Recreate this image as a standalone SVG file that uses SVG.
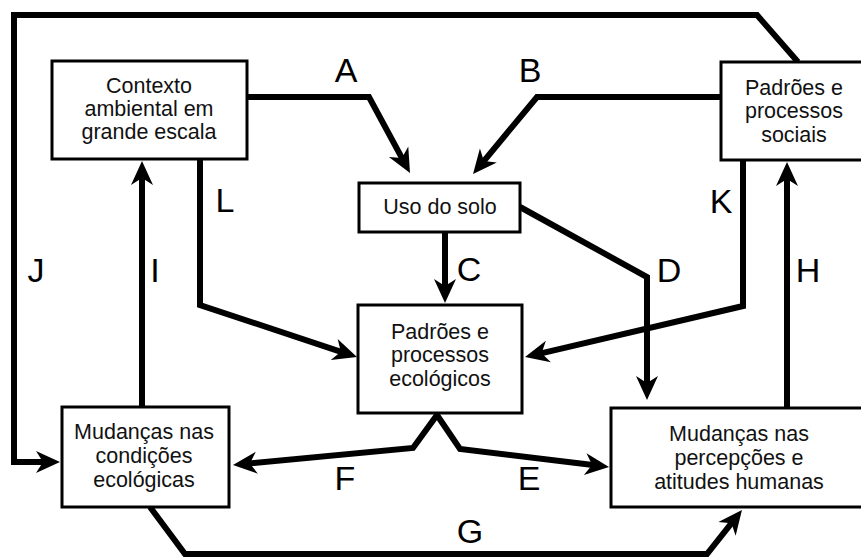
<svg xmlns="http://www.w3.org/2000/svg" width="861" height="558" viewBox="0 0 861 558">
<style>
.box{fill:#fff;stroke:#000;stroke-width:3}
.nt{font-family:"Liberation Sans",Arial,sans-serif;font-size:21.5px;fill:#111;text-anchor:middle}
.lb{font-family:"Liberation Sans",Arial,sans-serif;font-size:34px;fill:#000;text-anchor:middle}
.cn{fill:none;stroke:#000;stroke-width:6;stroke-linejoin:miter;stroke-miterlimit:6}
.ar{marker-end:url(#ah)}
</style>
<defs>
<marker id="ah" markerUnits="userSpaceOnUse" orient="auto-start-reverse" overflow="visible" markerWidth="1" markerHeight="1" refX="0" refY="0">
<path d="M12,0 L-12,-11 L-5,0 L-12,11 Z" fill="#000"/>
</marker>
</defs>
<rect width="861" height="558" fill="#fff"/>
<g id="connectors">
<path id="J" class="cn ar" d="M798,62 L757,15 L14,15 L14,462 L48,462"/>
<path id="A" class="cn ar" d="M247,97 L369,97 L404.3,162.4"/>
<path id="B" class="cn ar" d="M721,97 L537,97 L480.7,164.8"/>
<path id="C" class="cn ar" d="M445,232 L445,291"/>
<path id="D" class="cn ar" d="M520,207 L647,277 L647,388"/>
<path id="K" class="cn ar" d="M743,160 L743,306 L536.7,354.3"/>
<path id="H" class="cn ar" d="M787,408 L787,174"/>
<path id="L" class="cn ar" d="M200,159 L200,305 L345.6,353.3"/>
<path id="I" class="cn ar" d="M142,407 L142,173"/>
<path id="FE" class="cn ar" style="marker-start:url(#ah)" d="M244.9,463.9 L413,448 L437,415 L460,449 L597.1,465.6"/>
<path id="G" class="cn ar" d="M150,507 L185,554 L707,554 L734.5,519.4"/>
<text class="lb" x="346" y="82">A</text>
<text class="lb" x="530" y="82">B</text>
<text class="lb" x="469" y="281">C</text>
<text class="lb" x="669" y="282">D</text>
<text class="lb" x="721" y="213">K</text>
<text class="lb" x="808" y="282">H</text>
<text class="lb" x="36" y="282">J</text>
<text class="lb" x="155" y="282">I</text>
<text class="lb" x="225" y="212">L</text>
<text class="lb" x="345" y="490">F</text>
<text class="lb" x="529" y="490">E</text>
<text class="lb" x="470" y="543">G</text>
</g>
<g id="contexto">
<rect class="box" x="52" y="61" width="195" height="98"/>
<text class="nt" x="149" y="93">Contexto</text>
<text class="nt" x="149" y="116">ambiental em</text>
<text class="nt" x="149" y="139">grande escala</text>
</g>
<g id="uso">
<rect class="box" x="359" y="183" width="161" height="49"/>
<text class="nt" x="440" y="214">Uso do solo</text>
</g>
<g id="sociais">
<rect class="box" x="721" y="62" width="146" height="98"/>
<text class="nt" x="794" y="95">Padrões e</text>
<text class="nt" x="794" y="118">processos</text>
<text class="nt" x="794" y="142">sociais</text>
</g>
<g id="ecologicos">
<rect class="box" x="358" y="305" width="164" height="108"/>
<text class="nt" x="440" y="339">Padrões e</text>
<text class="nt" x="440" y="362">processos</text>
<text class="nt" x="440" y="386">ecológicos</text>
</g>
<g id="condicoes">
<rect class="box" x="62" y="407" width="167" height="100"/>
<text class="nt" x="144" y="439">Mudanças nas</text>
<text class="nt" x="144" y="463">condições</text>
<text class="nt" x="144" y="487">ecológicas</text>
</g>
<g id="percepcoes">
<rect class="box" x="611" y="408" width="256" height="99"/>
<text class="nt" x="739" y="441">Mudanças nas</text>
<text class="nt" x="739" y="465">percepções e</text>
<text class="nt" x="739" y="489">atitudes humanas</text>
</g>
</svg>
